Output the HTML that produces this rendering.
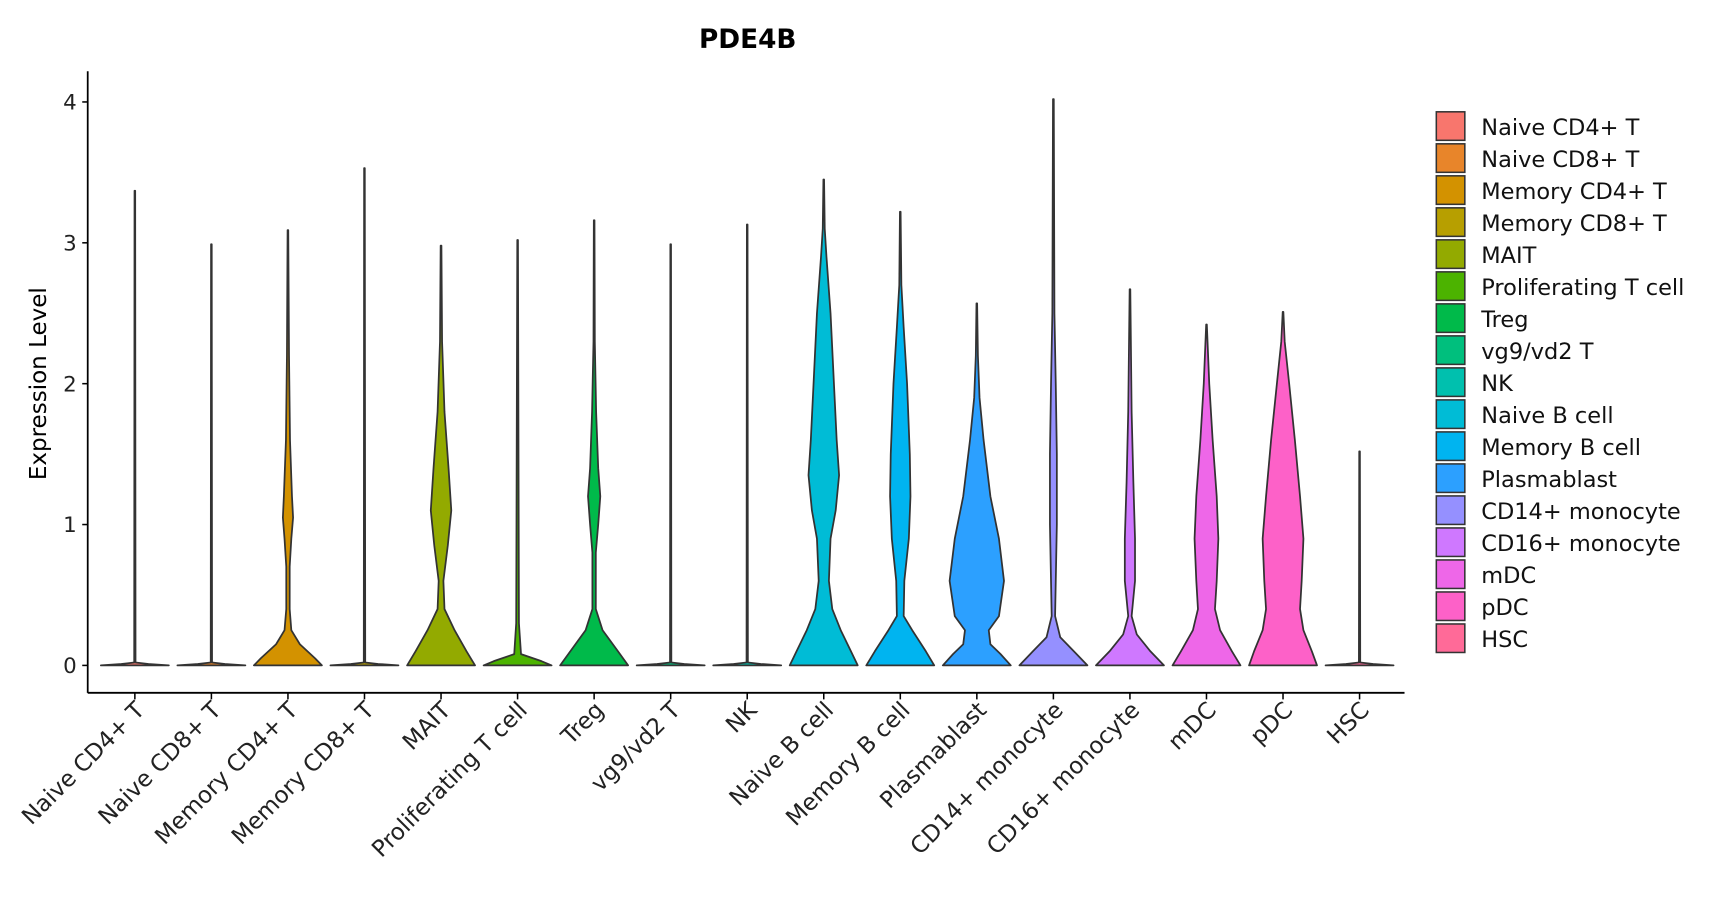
<!DOCTYPE html>
<html><head><meta charset="utf-8"><style>
html,body{margin:0;padding:0;background:#fff;}
svg{display:block;font-family:"DejaVu Sans","Liberation Sans",sans-serif;}
</style></head><body>
<svg id="chart" width="1717" height="900" viewBox="0 0 1566 821" preserveAspectRatio="none" xmlns="http://www.w3.org/2000/svg">
<text x="682" y="44" text-anchor="middle" font-size="24" font-weight="bold" fill="#000">PDE4B</text>
<text transform="translate(42,350) rotate(-90)" text-anchor="middle" font-size="21" fill="#000">Expression Level</text>
<g id="plot"></g>
<g id="legend"></g>
</svg>
<script>
const categories = ["Naive CD4+ T","Naive CD8+ T","Memory CD4+ T","Memory CD8+ T","MAIT","Proliferating T cell","Treg","vg9/vd2 T","NK","Naive B cell","Memory B cell","Plasmablast","CD14+ monocyte","CD16+ monocyte","mDC","pDC","HSC"];
const colors = ["#F8766D","#E8852A","#D39200","#B79F00","#93AA00","#4CB300","#00BA4A","#00BF7D","#00C0AE","#00BCD6","#00B4F0","#2CA0FF","#9590FF","#CF78FF","#EE67E8","#FD61C8","#FF6A98"];
const maxValues = [3.37,2.99,3.09,3.53,2.98,3.02,3.16,2.99,3.13,3.45,3.22,2.57,4.02,2.67,2.42,2.51,1.52];
const yTicks = [0,1,2,3,4];
// density profiles: [expression, relative half-width]
const profiles = [
 [[0,1],[0.01,0.4],[0.02,0.02]],
 [[0,1],[0.01,0.4],[0.02,0.02]],
 [[0,1],[0.05,0.8],[0.15,0.35],[0.25,0.1],[0.4,0.05],[0.7,0.05],[0.9,0.1],[1.05,0.15],[1.2,0.12],[1.6,0.06],[2.2,0.03]],
 [[0,1],[0.01,0.4],[0.02,0.02]],
 [[0,1],[0.1,0.75],[0.25,0.4],[0.4,0.1],[0.6,0.07],[0.85,0.2],[1.1,0.3],[1.4,0.22],[1.8,0.1],[2.3,0.03]],
 [[0,1],[0.03,0.7],[0.08,0.1],[0.3,0.04]],
 [[0,1],[0.1,0.7],[0.25,0.25],[0.4,0.05],[0.8,0.05],[1.0,0.12],[1.2,0.18],[1.4,0.12],[1.8,0.06],[2.3,0.02]],
 [[0,1],[0.01,0.4],[0.02,0.02]],
 [[0,1],[0.01,0.4],[0.02,0.02]],
 [[0,1],[0.1,0.8],[0.25,0.5],[0.4,0.25],[0.6,0.15],[0.9,0.2],[1.1,0.35],[1.35,0.45],[1.6,0.38],[2.0,0.3],[2.5,0.2],[2.9,0.08],[3.1,0.03]],
 [[0,1],[0.1,0.75],[0.25,0.35],[0.35,0.1],[0.6,0.12],[0.9,0.25],[1.2,0.3],[1.5,0.28],[2.0,0.2],[2.4,0.1],[2.7,0.03]],
 [[0,1],[0.08,0.7],[0.15,0.4],[0.25,0.35],[0.35,0.65],[0.6,0.8],[0.9,0.65],[1.2,0.4],[1.6,0.2],[1.9,0.08],[2.2,0.03]],
 [[0,1],[0.1,0.6],[0.2,0.2],[0.35,0.05],[1.0,0.1],[1.5,0.1],[2.0,0.07],[2.5,0.03]],
 [[0,1],[0.1,0.6],[0.22,0.2],[0.35,0.05],[0.6,0.15],[0.9,0.15],[1.3,0.1],[1.8,0.05]],
 [[0,1],[0.1,0.75],[0.25,0.4],[0.4,0.25],[0.6,0.3],[0.9,0.35],[1.2,0.3],[1.6,0.18],[2.0,0.08]],
 [[0,1],[0.1,0.85],[0.25,0.6],[0.4,0.5],[0.6,0.55],[0.9,0.6],[1.2,0.5],[1.6,0.35],[2.0,0.18],[2.3,0.05]],
 [[0,1],[0.01,0.4],[0.02,0.02]]
];
const NS="http://www.w3.org/2000/svg";
const X0=80, X1=1281, Ybase=632;
const yScale=v=>607-v*128.5;
const xScale=i=>123+i*((1240-123)/(categories.length-1));
const halfMax=31;
const plot=document.getElementById('plot');
function mk(tag,attrs,parent){const e=document.createElementNS(NS,tag);for(const k in attrs)e.setAttribute(k,attrs[k]);parent.appendChild(e);return e;}
const yAxis=mk('line',{x1:X0,y1:65,x2:X0,y2:Ybase,stroke:'#000','stroke-width':1.6},plot);


const xAxis=mk('line',{x1:X0,y1:Ybase,x2:X1,y2:Ybase,stroke:'#000','stroke-width':1.6},plot);


yTicks.forEach(t=>{
  const y=yScale(t);
  mk('line',{x1:X0-5,y1:y,x2:X0,y2:y,stroke:'#000','stroke-width':1.4},plot);
  const tx=mk('text',{x:X0-10,y:y+7,'text-anchor':'end','font-size':19.5,fill:'#222'},plot);
  tx.textContent=t;
  
  
});
categories.forEach((c,i)=>{
  const cx=xScale(i);
  const mx=maxValues[i];
  const prof=profiles[i].concat([[mx,0.01]]);
  const right=prof.map(p=>[cx+p[1]*halfMax,yScale(p[0])]);
  const left=prof.slice().reverse().map(p=>[cx-p[1]*halfMax,yScale(p[0])]);
  const pts=right.concat(left).map(p=>p[0].toFixed(1)+','+p[1].toFixed(1)).join(' ');
  const v=mk('polygon',{points:pts,fill:colors[i],stroke:'#333','stroke-width':1.6,'stroke-linejoin':'round'},plot);
  
  
  mk('line',{x1:cx,y1:Ybase,x2:cx,y2:Ybase+6,stroke:'#000','stroke-width':1.4},plot);
  const tx=mk('text',{transform:'translate('+(cx+10)+','+(Ybase+17)+') rotate(-45)','text-anchor':'end','font-size':21,fill:'#222'},plot);
  tx.textContent=c;
  
  
});
const legend=document.getElementById('legend');
categories.forEach((c,i)=>{
  const y=102+i*29.2;
  const r=mk('rect',{x:1310,y:y,width:26,height:26,fill:colors[i],stroke:'#333','stroke-width':1.4},legend);
  
  
  const t=mk('text',{x:1351,y:y+21,'font-size':20.5,fill:'#111'},legend);
  t.textContent=c;
  
  
});
</script>
</body></html>
